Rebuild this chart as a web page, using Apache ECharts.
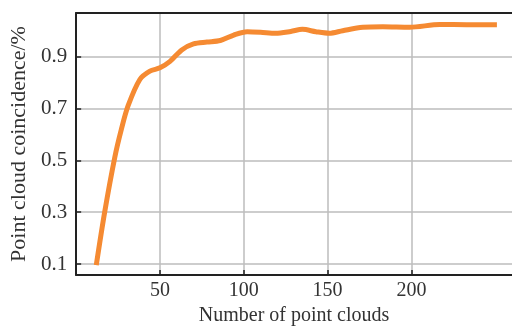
<!DOCTYPE html>
<html>
<head>
<meta charset="utf-8">
<style>html,body{margin:0;padding:0;background:#fff}#c{width:512px;height:331px}</style>
<script src="https://cdn.jsdelivr.net/npm/echarts@6/dist/echarts.min.js"></script>
</head>
<body>
<div id="c"></div>
<script>
var xValues = [12, 17, 23, 27, 31, 38, 44, 50, 56, 63, 70, 78, 86, 94, 102, 110, 119, 128, 135, 143, 151, 159, 171, 183, 199, 217, 233, 251];
var yValues = [0.096, 0.30, 0.51, 0.62, 0.71, 0.811, 0.843, 0.856, 0.881, 0.925, 0.948, 0.955, 0.961, 0.982, 0.995, 0.993, 0.989, 0.996, 1.004, 0.995, 0.989, 0.999, 1.012, 1.014, 1.012, 1.023, 1.022, 1.022];
var xTicks = [50, 100, 150, 200];
var yTicks = [0.1, 0.3, 0.5, 0.7, 0.9];
var xName = 'Number of point clouds';
var yName = 'Point cloud coincidence/%';

var data = xValues.map(function (x, i) { return [x, yValues[i]]; });
var font = '"Liberation Serif", "DejaVu Serif", serif';
var chart = echarts.init(document.getElementById('c'), null, {renderer: 'canvas'});
chart.setOption({
  animation: false,
  backgroundColor: '#fff',
  grid: {left: 76, right: 0, top: 13, bottom: 53},
  xAxis: [{
    type: 'value', min: 0, max: 260,
    name: xName, nameLocation: 'middle', nameGap: 27,
    nameTextStyle: {fontFamily: font, fontSize: 20, color: '#333'},
    axisLine: {show: true, lineStyle: {color: '#222', width: 2}},
    axisTick: {show: true, inside: true, length: 5, customValues: xTicks, lineStyle: {color: '#222', width: 1.5}},
    axisLabel: {customValues: xTicks, fontFamily: font, fontSize: 20, color: '#333', margin: 6},
    splitLine: {show: true, lineStyle: {color: '#bdbdbd', width: 1.5}}
  }, {
    type: 'value', min: 0, max: 260, position: 'top',
    axisLine: {show: true, onZero: false, lineStyle: {color: '#222', width: 2}},
    axisTick: {show: false}, axisLabel: {show: false}, splitLine: {show: false}
  }],
  yAxis: {
    type: 'value', min: 0.058, max: 1.067,
    name: yName, nameLocation: 'middle', nameGap: 40,
    nameTextStyle: {fontFamily: font, fontSize: 22, color: '#333'},
    axisLine: {show: true, lineStyle: {color: '#222', width: 2}},
    axisTick: {show: true, inside: true, length: 5, customValues: yTicks, lineStyle: {color: '#222', width: 1.5}},
    axisLabel: {customValues: yTicks, fontFamily: font, fontSize: 21, color: '#333', margin: 9,
      formatter: function (v) { return v.toFixed(1); }},
    splitLine: {show: true, lineStyle: {color: '#bdbdbd', width: 1.5}}
  },
  series: [{
    type: 'line', data: data, xAxisIndex: 0, smooth: 0.3, showSymbol: false,
    lineStyle: {color: '#F58A32', width: 5}
  }]
});
</script>
</body>
</html>
